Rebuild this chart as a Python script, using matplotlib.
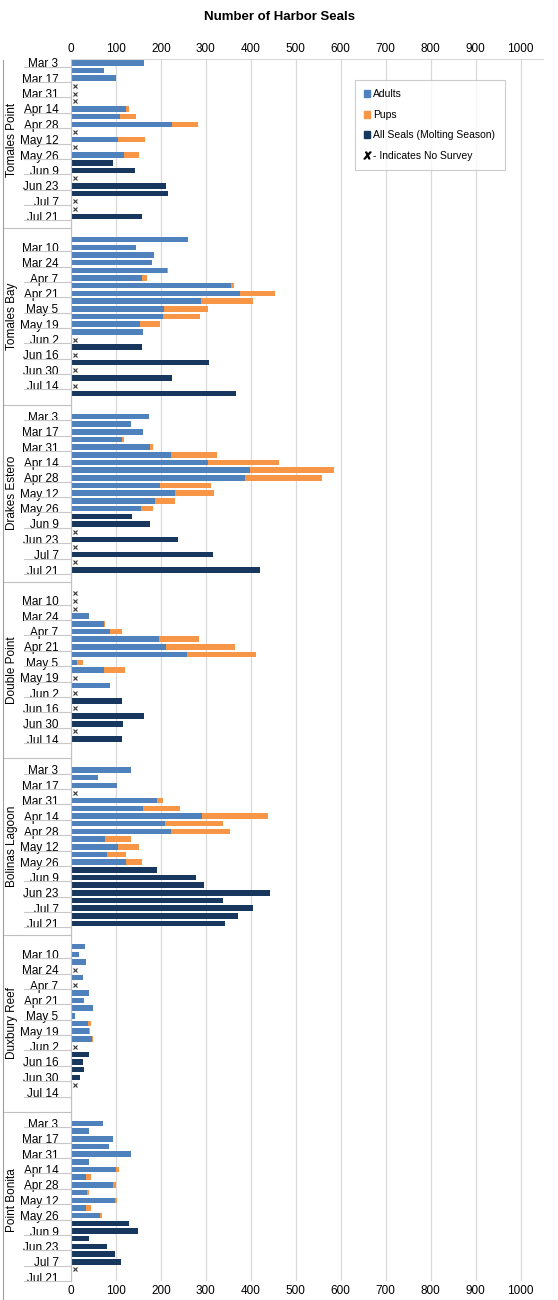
import matplotlib.pyplot as plt
import matplotlib.transforms as mtransforms
from matplotlib.patches import Patch
from matplotlib.lines import Line2D
import numpy as np

plt.rcParams['font.family'] = ['Liberation Sans', 'DejaVu Sans']

dates = ['Mar 3', 'Mar 10', 'Mar 17', 'Mar 24', 'Mar 31', 'Apr 7', 'Apr 14', 'Apr 21',
         'Apr 28', 'May 5', 'May 12', 'May 19', 'May 26', 'Jun 2', 'Jun 9', 'Jun 16',
         'Jun 23', 'Jun 30', 'Jul 7', 'Jul 14', 'Jul 21']
sites = ['Tomales Point', 'Tomales Bay', 'Drakes Estero', 'Double Point',
         'Bolinas Lagoon', 'Duxbury Reef', 'Point Bonita']
N = None

# breeding season (Mar 3 - May 26): adults and pups
adults = {
    'Tomales Point': [162, 73, 99, N, N, N, 123, 110, 224, N, 105, N, 117],
    'Tomales Bay': [260, 144, 184, 180, 213, 157, 356, 375, 290, 207, 204, 154, 160],
    'Drakes Estero': [173, 133, 161, 114, 176, 223, 305, 398, 386, 199, 232, 187, 156],
    'Double Point': [N, N, N, 40, 74, 87, 195, 211, 259, 14, 74, N, 87],
    'Bolinas Lagoon': [133, 59, 102, N, 191, 160, 291, 208, 222, 76, 104, 80, 122],
    'Duxbury Reef': [32, 18, 33, N, 27, N, 40, 30, 50, 10, 37, 39, 47],
    'Point Bonita': [72, 39, 93, 85, 133, 39, 100, 33, 93, 36, 98, 34, 65],
}
pups = {
    'Tomales Point': [0, 0, 0, N, N, N, 7, 34, 59, N, 60, N, 35],
    'Tomales Bay': [0, 0, 0, 0, 3, 11, 7, 78, 115, 97, 83, 44, 0],
    'Drakes Estero': [0, 0, 0, 5, 6, 102, 157, 186, 172, 113, 87, 44, 26],
    'Double Point': [N, N, N, 0, 1, 26, 89, 154, 153, 12, 46, N, 0],
    'Bolinas Lagoon': [0, 0, 0, N, 14, 82, 148, 130, 131, 58, 48, 42, 35],
    'Duxbury Reef': [0, 0, 0, N, 0, N, 0, 0, 0, 0, 7, 3, 2],
    'Point Bonita': [0, 0, 0, 0, 0, 0, 7, 12, 6, 3, 4, 11, 3],
}
# molting season (Jun 2 - Jul 21): all seals
molting = {
    'Tomales Point': [93, 142, N, 211, 216, N, N, 159],
    'Tomales Bay': [N, 159, N, 306, N, 224, N, 366],
    'Drakes Estero': [136, 175, N, 237, N, 317, N, 420],
    'Double Point': [N, 113, N, 162, 115, N, 113, 2],
    'Bolinas Lagoon': [191, 279, 296, 442, 339, 404, 371, 342],
    'Duxbury Reef': [N, 39, 27, 30, 19, N, 3, N],
    'Point Bonita': [129, 148, 41, 80, 97, 111, N, N],
}
# dates without survey, shown with an X
no_survey = {
    'Tomales Point': ['Mar 24', 'Mar 31', 'Apr 7', 'May 5', 'May 19', 'Jun 16', 'Jul 7', 'Jul 14'],
    'Tomales Bay': ['Jun 2', 'Jun 16', 'Jun 30', 'Jul 14'],
    'Drakes Estero': ['Jun 16', 'Jun 30', 'Jul 14'],
    'Double Point': ['Mar 3', 'Mar 10', 'Mar 17', 'May 19', 'Jun 2', 'Jun 16', 'Jul 7'],
    'Bolinas Lagoon': ['Mar 24'],
    'Duxbury Reef': ['Mar 24', 'Apr 7', 'Jun 2', 'Jul 7'],
    'Point Bonita': ['Jul 14'],
}

c_adult = '#4f81bd'
c_pup = '#f79646'
c_all = '#17375e'

fig = plt.figure(figsize=(5.58, 13), dpi=100)
ax = fig.add_axes([71 / 558, 1 - 1281 / 1300, (543 - 71) / 558, (1281 - 59) / 1300])
trans = mtransforms.blended_transform_factory(ax.transAxes, ax.transData)

step = len(dates) + 2
h = 0.72
ticks, labels = [], []
for k, s in enumerate(sites):
    base = k * step
    y_br = base + np.arange(13)
    a = np.array([np.nan if v is None else v for v in adults[s]], float)
    p = np.array([np.nan if v is None else v for v in pups[s]], float)
    ax.barh(y_br, a, height=h, color=c_adult)
    ax.barh(y_br, p, left=a, height=h, color=c_pup)
    y_m = base + 13 + np.arange(8)
    m = np.array([np.nan if v is None else v for v in molting[s]], float)
    ax.barh(y_m, m, height=h, color=c_all)
    for d in no_survey[s]:
        ax.plot(9, base + dates.index(d), marker='x', color='#333333', ms=3.5, mew=0.8)
    for i, d in enumerate(dates):
        g = base + i
        if g % 2 == 0:
            ticks.append(g)
            labels.append(d)
    # site label and separator on the left
    ax.text(-0.125, base + 10, s, transform=trans, rotation=90, ha='center', va='center',
            fontsize=8.5)
    if k > 0:
        ax.plot([-0.145, 0], [base - 1.5, base - 1.5], color='#c0c0c0', lw=0.8,
                transform=trans, clip_on=False)

ax.set_yticks(ticks)
ax.set_yticklabels(labels, fontsize=8.5)
ax.tick_params(axis='y', length=0, pad=9)
for t in ticks:
    ax.plot([-0.1, 0], [t + 0.5, t + 0.5], color='#c8c8c8', lw=0.8, transform=trans, clip_on=False)

ax.set_ylim(158.5, -0.5)
ax.set_xlim(0, 1050)
ax.set_xticks(np.arange(0, 1001, 100))
ax.tick_params(axis='x', labelsize=8.5, length=0, labeltop=True, top=False, pad=3)
ax.grid(axis='x', color='#d9d9d9', lw=0.9)
ax.set_axisbelow(True)
for sp in ['right', 'bottom']:
    ax.spines[sp].set_visible(False)
ax.spines['top'].set_color('#d9d9d9')
ax.spines['left'].set_color('#c0c0c0')

fig.text(0.5, 1 - 17 / 1300, 'Number of Harbor Seals', ha='center', va='center',
         fontsize=9.5, fontweight='bold')
fig.add_artist(plt.Line2D([3 / 558, 3 / 558], [0.0, 1 - 60 / 1300], color='#a0a0a0', lw=0.8))

handles = [Patch(color=c_adult), Patch(color=c_pup), Patch(color=c_all),
           Line2D([], [], ls='', marker='$X$', color='black', ms=5)]
leg = ax.legend(handles, ['Adults', 'Pups', 'All Seals (Molting Season)', '- Indicates No Survey'],
                loc='upper left', bbox_to_anchor=(0.59, 0.987), fontsize=7.5, frameon=True,
                fancybox=False, edgecolor='#c0c0c0', handlelength=0.6, handleheight=0.6,
                handletextpad=0.3, labelspacing=1.0, borderpad=0.9)
leg.get_frame().set_linewidth(0.8)

fig.savefig('out.png', dpi=100)
